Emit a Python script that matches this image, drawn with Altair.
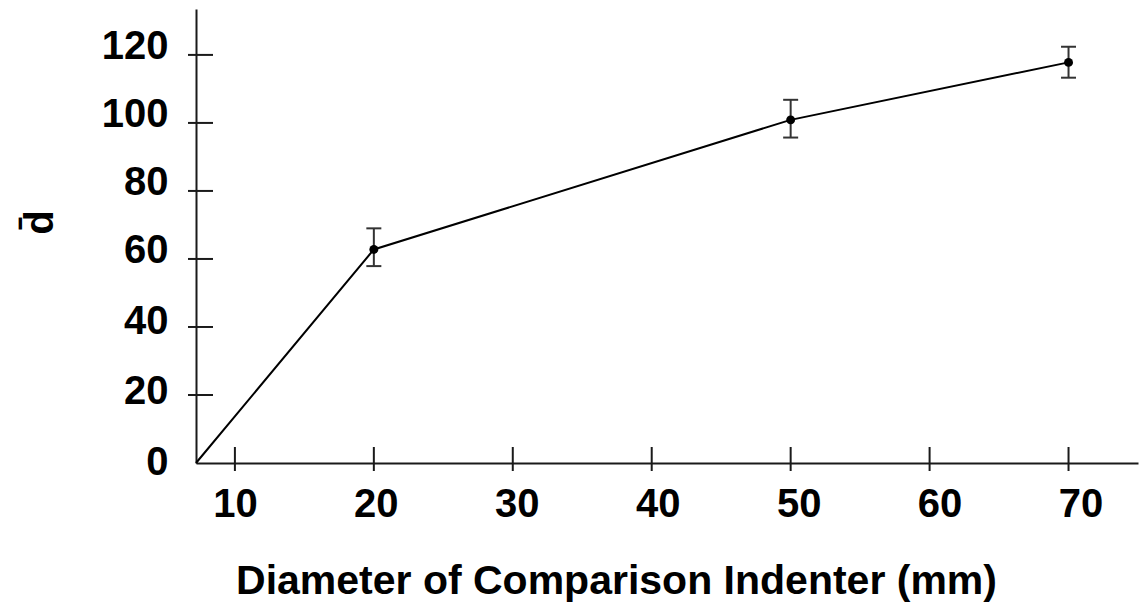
import altair as alt
import pandas as pd

# ---- data ----
line_x = [7.2, 20, 50, 70]
line_y = [0, 62.8, 100.9, 117.8]
pt_x = [20, 50, 70]
pt_mean = [62.8, 100.9, 117.8]
pt_lo = [57.9, 95.7, 113.3]
pt_hi = [69.0, 106.8, 122.4]
x_ticks = [10, 20, 30, 40, 50, 60, 70]
y_ticks = [0, 20, 40, 60, 80, 100, 120]
y_tick_marks = [20, 40, 60, 80, 100, 120]
x_domain = [7.2, 75]
y_domain = [0, 133.5]

FONT = "Liberation Sans"
INK = "#1a1a1a"

xs = alt.Scale(domain=x_domain, nice=False, zero=False)
ys = alt.Scale(domain=y_domain, nice=False, zero=False)

line_df = pd.DataFrame({"x": line_x, "y": line_y})
pt_df = pd.DataFrame({"x": pt_x, "y": pt_mean, "lo": pt_lo, "hi": pt_hi})
xt_df = pd.DataFrame({"x": x_ticks, "y": [y_domain[0]] * len(x_ticks)})
yt_df = pd.DataFrame({"x": [x_domain[0]] * len(y_tick_marks), "y": y_tick_marks})

X_TITLE = "Diameter of Comparison Indenter (mm)"
Y_TITLE = "d\u0304"

x_axis = alt.Axis(
    values=x_ticks, ticks=False, grid=False,
    domainColor=INK, domainWidth=2,
    labelFont=FONT, labelFontSize=40, labelFontWeight="bold", labelColor="black",
    labelPadding=21, labelFlush=False, labelOverlap=False, labelBound=False,
    labelOffset=alt.ExprRef(expr="(datum.value-10)*0.2"),
    titleFont=FONT, titleFontSize=41, titleFontWeight="bold", titleColor="black",
    titleX=420, titleY=130, titleBaseline="alphabetic", titleAlign="center",
)
y_axis = alt.Axis(
    values=y_ticks, ticks=False, grid=False,
    domainColor=INK, domainWidth=2,
    labelFont=FONT, labelFontSize=40, labelFontWeight="bold", labelColor="black",
    labelPadding=28, labelFlush=False, labelOverlap=False, labelBound=False,
    labelOffset=alt.ExprRef(expr="-min(8, 1 + datum.value*0.12)"),
    titleFont=FONT, titleFontSize=40, titleFontWeight="bold", titleColor="black",
    titleAngle=270, titleX=-144, titleY=213, titleBaseline="alphabetic", titleAlign="center",
)


def X(field):
    return alt.X(field, scale=xs, axis=x_axis, title=X_TITLE)


def Y(field):
    return alt.Y(field, scale=ys, axis=y_axis, title=Y_TITLE)


line = alt.Chart(line_df).mark_line(color="black", strokeWidth=2).encode(
    x=X("x:Q"), y=Y("y:Q"),
)

xticks = alt.Chart(xt_df).mark_tick(
    orient="vertical", size=24, thickness=2, color=INK, opacity=1, yOffset=-4
).encode(x=X("x:Q"), y=Y("y:Q"))

yticks = alt.Chart(yt_df).mark_tick(
    orient="horizontal", size=25, thickness=2, color=INK, opacity=1, xOffset=4.5
).encode(x=X("x:Q"), y=Y("y:Q"))

err = alt.Chart(pt_df).mark_rule(color="#333333", strokeWidth=2).encode(
    x=X("x:Q"), y=Y("lo:Q"), y2="hi:Q",
)
cap_lo = alt.Chart(pt_df).mark_tick(
    orient="horizontal", size=15, thickness=2, color="#333333", opacity=1
).encode(x=X("x:Q"), y=Y("lo:Q"))
cap_hi = alt.Chart(pt_df).mark_tick(
    orient="horizontal", size=15, thickness=2, color="#333333", opacity=1
).encode(x=X("x:Q"), y=Y("hi:Q"))
pts = alt.Chart(pt_df).mark_circle(size=80, color="black", opacity=1).encode(
    x=X("x:Q"), y=Y("y:Q"),
)

chart = alt.layer(line, xticks, yticks, err, cap_lo, cap_hi, pts).properties(
    width=942, height=454,
    padding={"left": 196, "top": 9, "right": 2, "bottom": 146},
    autosize="none",
    background="white",
).configure_view(stroke=None)

chart.save("out.html", embed_options={"renderer": "svg", "actions": False})
